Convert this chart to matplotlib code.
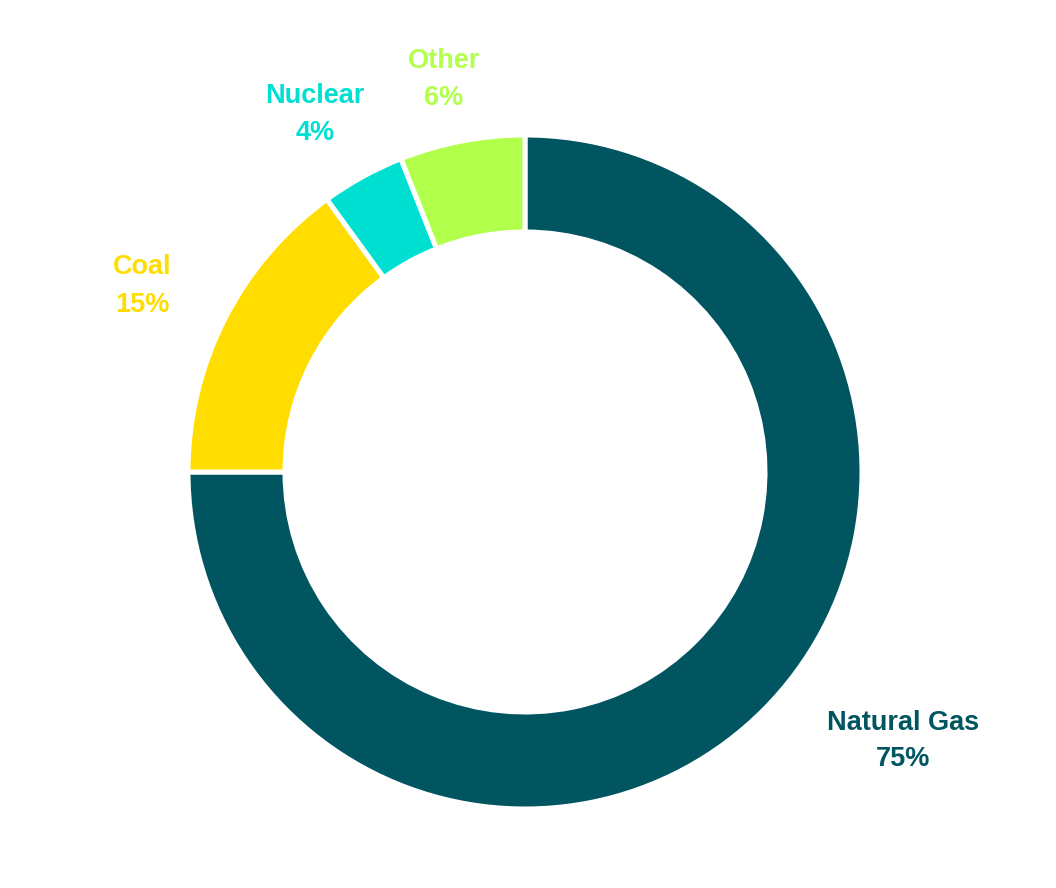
import matplotlib
matplotlib.use("Agg")
import matplotlib.pyplot as plt

categories = ["Natural Gas", "Coal", "Nuclear", "Other"]
shares = [75, 15, 4, 6]
colors = ["#005561", "#FFDD00", "#00E0D2", "#B2FF4C"]
pct_labels = ["75%", "15%", "4%", "6%"]

W, H = 1056, 888
fig = plt.figure(figsize=(W / 100, H / 100), dpi=100)
ax = fig.add_axes([0, 0, 1, 1])

cx, cy, R = 525, H - 472, 337
ax.pie(shares, colors=colors, startangle=90, counterclock=False,
       center=(cx, cy), radius=R, frame=True,
       wedgeprops=dict(width=97, edgecolor="white", linewidth=3.6))
ax.set_xlim(0, W)
ax.set_ylim(0, H)
ax.set_aspect("equal")
ax.axis("off")

# label anchor positions (pixels from top-left), centre of the two-line block
label_pos = [(903, 741), (142, 286), (315, 115), (444, 80)]
for name, pct, col, (lx, ly) in zip(categories, pct_labels, colors, label_pos):
    ax.text(lx, H - ly, f"{name}\n{pct}", ha="center", va="center",
            color=col, fontsize=19.5, fontweight="bold",
            family="Liberation Sans", linespacing=1.55)

fig.savefig("out.png", dpi=100)
